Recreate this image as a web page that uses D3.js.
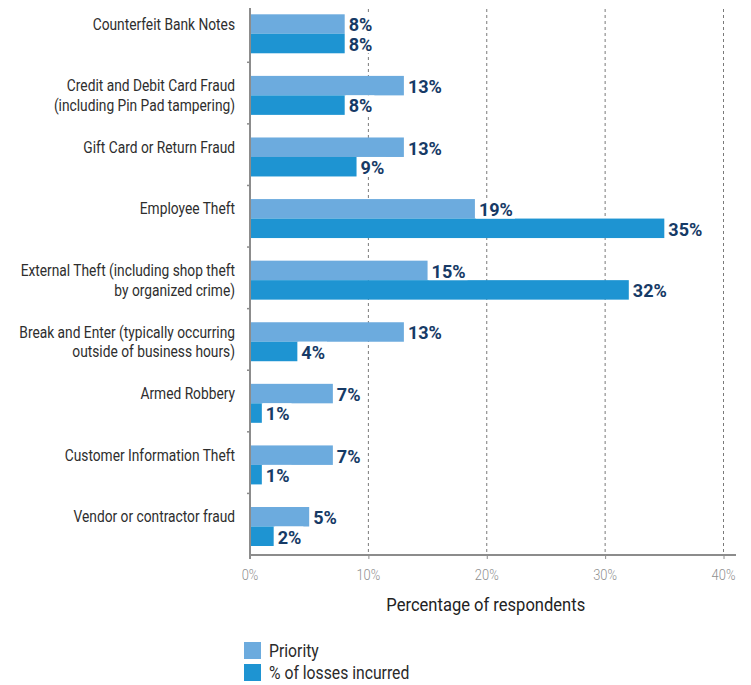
<!DOCTYPE html>
<html>
<head>
<meta charset="utf-8">
<script src="https://cdn.jsdelivr.net/npm/d3@7"></script>
<style>
  html, body { margin: 0; padding: 0; background: #fff; }
  svg { display: block; font-family: "Roboto", "Liberation Sans", sans-serif; }
</style>
</head>
<body>
<svg id="chart" width="751" height="685"></svg>
<script>
// Loss-prevention categories (each entry is one or two label lines)
const categories = [
  ["Counterfeit Bank Notes"],
  ["Credit and Debit Card Fraud", "(including Pin Pad tampering)"],
  ["Gift Card or Return Fraud"],
  ["Employee Theft"],
  ["External Theft (including shop theft", "by organized crime)"],
  ["Break and Enter (typically occurring", "outside of business hours)"],
  ["Armed Robbery"],
  ["Customer Information Theft"],
  ["Vendor or contractor fraud"]
];
const priority = [8, 13, 13, 19, 15, 13, 7, 7, 5];
const losses   = [8, 8, 9, 35, 32, 4, 1, 1, 2];
const seriesNames = ["Priority", "% of losses incurred"];
const xTicks = [0, 10, 20, 30, 40];
const axisTitle = "Percentage of respondents";

const colors = ["#6cabde", "#1e94d2"];
const labelColor = "#163a66";

const svg = d3.select("#chart");
const plotLeft = 250, plotRight = 723.5, plotTop = 0.7, plotBottom = 555;

const x = d3.scaleLinear().domain([0, 40]).range([plotLeft, plotRight]);
const y = d3.scaleBand().domain(d3.range(categories.length)).range([plotTop, plotBottom]).paddingInner(0).paddingOuter(0);
const inner = d3.scaleBand().domain([0, 1]).range([2.3, y.bandwidth() + 2.3]).paddingInner(0).paddingOuter(0.58);

// horizontally condensed text, to approximate a narrow typeface
function narrowText(parent, px, py, str, opts) {
  const g = parent.append("g").attr("transform", `translate(${px},${py}) scale(${opts.sx},1)`);
  return g.append("text")
    .attr("x", 0).attr("y", 0).attr("dy", "0.36em")
    .attr("text-anchor", opts.anchor || "start")
    .attr("font-size", opts.size)
    .attr("font-weight", opts.weight || "normal")
    .attr("fill", opts.fill)
    .text(str);
}

// dashed vertical gridlines
svg.append("g").selectAll("line").data(xTicks.slice(1)).join("line")
  .attr("x1", d => x(d)).attr("x2", d => x(d))
  .attr("y1", 9).attr("y2", plotBottom)
  .attr("stroke", "#7a7a7a").attr("stroke-width", 1).attr("stroke-dasharray", "3,3");

// bars
const series = [priority, losses];
const gBars = svg.append("g");
series.forEach((vals, s) => {
  gBars.selectAll(null).data(vals).join("rect")
    .attr("x", x(0))
    .attr("y", (d, i) => y(i) + inner(s))
    .attr("width", d => x(d) - x(0))
    .attr("height", inner.bandwidth())
    .attr("fill", colors[s]);
});

// value labels, each on a white strip within its own bar row so gridlines stay hidden behind it
const labelSx = 0.95;
const gBacks = svg.append("g");
const gVals = svg.append("g");
series.forEach((vals, s) => {
  vals.forEach((d, i) => {
    const t = narrowText(gVals, x(d) + 4, y(i) + inner(s) + inner.bandwidth() / 2 + 0.5, d + "%",
      { sx: labelSx, size: 19, weight: "bold", fill: labelColor });
    const w = t.node().getBBox().width * labelSx;
    gBacks.append("rect")
      .attr("x", x(d) + 1).attr("y", y(i) + inner(s))
      .attr("width", w + 5).attr("height", inner.bandwidth())
      .attr("fill", "#fff");
  });
});

// x axis
const xAxis = d3.axisBottom(x).tickValues(xTicks).tickFormat(() => "").tickSize(4);
const gx = svg.append("g").attr("transform", `translate(0,${plotBottom})`).call(xAxis);
gx.select(".domain").attr("d", `M${plotLeft},0H736`).attr("stroke", "#8c8c8c").attr("stroke-width", 2);
gx.selectAll(".tick line").attr("stroke", "#8c8c8c");
xTicks.forEach(t => {
  narrowText(svg, x(t), 575, t + "%", { sx: 0.92, size: 14, weight: 300, fill: "#8f8f8f", anchor: "middle" });
});

// y axis with ticks at category boundaries
const gy = svg.append("g").attr("transform", `translate(${plotLeft},0)`);
gy.append("line").attr("x1", 0).attr("x2", 0).attr("y1", 8).attr("y2", plotBottom + 4)
  .attr("stroke", "#8c8c8c").attr("stroke-width", 2);
gy.selectAll(".btick").data(d3.range(1, categories.length)).join("line")
  .attr("x1", -3).attr("x2", 0)
  .attr("y1", i => y(i)).attr("y2", i => y(i))
  .attr("stroke", "#8c8c8c").attr("stroke-width", 1.5);

// category labels, right-aligned, one line per bar row
const gLab = svg.append("g");
categories.forEach((lines, i) => {
  lines.forEach((ln, k) => {
    narrowText(gLab, 235, y(i) + inner(k) + inner.bandwidth() / 2 - 0.5, ln,
      { sx: 0.81, size: 17, fill: "#2e2e2e", anchor: "end" });
  });
});

// axis title
narrowText(svg, (plotLeft + plotRight) / 2 - 1, 605, axisTitle,
  { sx: 0.92, size: 18, fill: "#222", anchor: "middle" });

// legend
const leg = svg.append("g").attr("transform", "translate(244,642)");
seriesNames.forEach((name, s) => {
  leg.append("rect").attr("x", 0).attr("y", s * 22).attr("width", 17).attr("height", 17).attr("fill", colors[s]);
  narrowText(leg, 25, s * 22 + 9, name, { sx: 0.9, size: 17.5, fill: "#2a2a2a" });
});
</script>
</body>
</html>
